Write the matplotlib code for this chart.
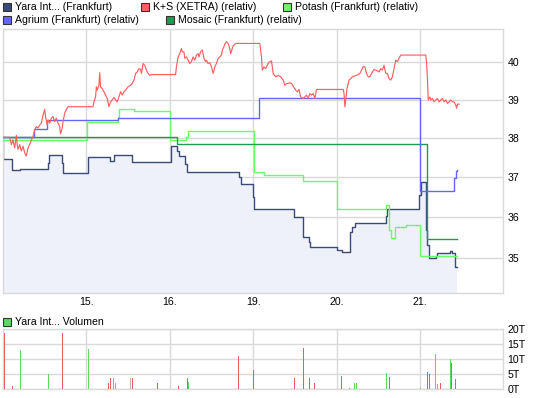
import matplotlib
matplotlib.use("Agg")
import matplotlib.pyplot as plt
from matplotlib.patches import Rectangle

plt.rcParams['font.family'] = ['Liberation Sans', 'DejaVu Sans']

# x = trading days since the start of the 14th (1.0 = start of the 15th, ...)
day_labels = ['15.', '16.', '19.', '20.', '21.']
price_ticks = [35, 36, 37, 38, 39, 40]

# Yara (Frankfurt), step points
yara_t = [0.00, 0.005, 0.11, 0.20, 0.535, 0.555, 0.705, 0.715, 1.015, 1.28,
          1.33, 1.545, 2.015, 2.085, 2.115, 2.185, 2.21, 2.825, 2.85, 3.003,
          3.01, 3.485, 3.60, 3.665, 3.68, 4.005, 4.06, 4.16, 4.19, 4.22,
          4.595, 4.61, 4.995, 5.01, 5.075, 5.09, 5.11, 5.19, 5.21, 5.36,
          5.385, 5.415, 5.445]
yara_v = [38.01, 37.46, 37.17, 37.19, 37.36, 37.56, 37.36, 37.11, 37.51, 37.41,
          37.56, 37.38, 37.78, 37.65, 37.53, 37.32, 37.13, 36.99, 36.82, 36.50,
          36.21, 36.01, 35.52, 35.40, 35.27, 35.20, 35.15, 35.64, 35.76, 35.85,
          36.03, 36.21, 36.54, 36.87, 35.69, 35.33, 35.00, 35.06, 35.13, 35.17,
          35.13, 34.80, 34.80]

# K+S (XETRA) relativ
ks_t = [0.00, 0.08, 0.10, 0.12, 0.14, 0.16, 0.17, 0.18, 0.20, 0.22, 0.24, 0.26,
        0.28, 0.30, 0.32, 0.34, 0.36, 0.38, 0.40, 0.42, 0.44, 0.46, 0.48, 0.50,
        0.51, 0.53, 0.54, 0.56, 0.58, 0.60, 0.62, 0.64, 0.66, 0.68, 0.69, 0.71,
        0.72, 0.74, 0.76, 0.78, 1.08, 1.09, 1.11, 1.12, 1.13, 1.15, 1.16, 1.17,
        1.19, 1.21, 1.23, 1.25, 1.27, 1.29, 1.31, 1.33, 1.35, 1.37, 1.39, 1.41,
        1.43, 1.45, 1.47, 1.50, 1.53, 1.55, 1.57, 1.59, 1.61, 1.63, 1.65, 1.66,
        1.68, 1.70, 1.72, 1.74, 1.76, 1.78, 2.07, 2.08, 2.10, 2.12, 2.14, 2.15,
        2.17, 2.18, 2.20, 2.22, 2.24, 2.26, 2.28, 2.30, 2.32, 2.34, 2.35, 2.37,
        2.39, 2.41, 2.43, 2.44, 2.46, 2.48, 2.50, 2.52, 2.54, 2.56, 2.58, 2.60,
        2.62, 2.63, 2.65, 2.66, 2.68, 2.70, 2.72, 2.73, 2.75, 2.76, 2.78, 2.80,
        3.08, 3.10, 3.11, 3.13, 3.15, 3.18, 3.20, 3.22, 3.24, 3.27, 3.30, 3.33,
        3.36, 3.38, 3.40, 3.42, 3.44, 3.46, 3.48, 3.50, 3.51, 3.53, 3.55, 3.57,
        3.60, 3.62, 3.64, 3.66, 3.68, 3.70, 3.72, 3.74, 3.76, 4.08, 4.09, 4.10,
        4.12, 4.125, 4.14, 4.15, 4.17, 4.19, 4.24, 4.28, 4.30, 4.32, 4.34, 4.36,
        4.38, 4.40, 4.42, 4.43, 4.45, 4.47, 4.49, 4.51, 4.53, 4.55, 4.57, 4.59,
        4.61, 4.63, 4.65, 4.67, 4.69, 4.71, 4.73, 4.75, 4.77, 5.07, 5.08, 5.09,
        5.10, 5.12, 5.13, 5.15, 5.17, 5.19, 5.21, 5.23, 5.25, 5.27, 5.29, 5.31,
        5.33, 5.35, 5.37, 5.39, 5.41, 5.43, 5.44, 5.45, 5.47]
ks_v = [38.01, 38.01, 37.82, 37.94, 37.74, 38.06, 37.82, 37.70, 37.82, 37.66, 37.78, 37.61,
        37.53, 37.74, 37.82, 37.94, 38.03, 38.20, 38.29, 38.25, 38.33, 38.38, 38.59, 38.74,
        38.55, 38.33, 38.46, 38.38, 38.51, 38.55, 38.42, 38.51, 38.38, 38.29, 38.10, 38.25,
        38.42, 38.64, 38.74, 38.81, 38.81, 38.94, 39.07, 39.34, 39.25, 39.38, 39.72, 39.34,
        39.29, 39.21, 39.12, 39.03, 38.81, 38.94, 38.99, 39.06, 38.99, 38.94, 39.07, 39.21,
        39.12, 39.21, 39.25, 39.34, 39.38, 39.43, 39.52, 39.70, 39.74, 39.83, 39.81, 39.70,
        39.97, 39.92, 39.79, 39.70, 39.65, 39.67, 39.67, 39.88, 40.15, 40.24, 40.38, 40.29,
        40.29, 40.11, 40.15, 40.06, 39.97, 40.02, 40.15, 40.06, 40.20, 40.24, 40.15, 40.29,
        40.34, 40.11, 40.02, 40.06, 39.97, 39.99, 39.88, 39.70, 39.88, 39.97, 40.11, 40.15,
        40.20, 40.34, 40.43, 40.50, 40.57, 40.52, 40.38, 40.24, 40.38, 40.45, 40.50, 40.52,
        40.52, 40.15, 39.79, 39.88, 39.83, 39.97, 40.02, 40.04, 39.70, 39.61, 39.65, 39.61,
        39.52, 39.38, 39.43, 39.43, 39.45, 39.43, 39.36, 39.29, 39.25, 39.21, 39.27, 39.07,
        39.03, 39.07, 39.12, 39.03, 39.16, 39.12, 39.16, 39.03, 39.27, 39.27, 39.16, 38.81,
        39.16, 39.29, 39.43, 39.52, 39.56, 39.61, 39.65, 39.70, 39.79, 39.88, 39.88, 39.70,
        39.61, 39.61, 39.70, 39.74, 39.81, 39.79, 39.77, 39.74, 39.83, 39.79, 39.92, 39.70,
        39.70, 39.56, 39.52, 39.61, 39.83, 40.06, 40.02, 40.11, 40.20, 40.20, 39.97, 39.56,
        38.99, 39.07, 38.99, 39.03, 38.94, 38.99, 39.03, 38.94, 38.99, 39.03, 38.94, 38.99,
        38.90, 38.94, 38.99, 38.94, 38.94, 38.85, 38.77, 38.88, 38.88]

# Potash (Frankfurt) relativ, step points
potash_t = [0.00, 1.005, 1.375, 1.39, 1.575, 2.005, 2.20, 2.22, 3.005, 3.125,
            3.595, 4.01, 4.595, 4.635, 4.65, 4.70, 4.83, 5.00, 5.445]
potash_v = [37.94, 38.40, 38.53, 38.74, 38.71, 37.95, 38.03, 38.17, 37.12, 37.06,
            36.89, 36.19, 36.29, 35.69, 35.48, 35.76, 35.80, 35.06, 35.06]

# Agrium (Frankfurt) relativ, step points
agrium_t = [0.00, 0.37, 0.53, 1.385, 3.065, 5.00, 5.405, 5.43, 5.445]
agrium_v = [38.01, 38.22, 38.46, 38.51, 39.03, 36.64, 36.97, 37.15, 37.18]

# Mosaic (Frankfurt) relativ, step points
mosaic_t = [0.00, 2.09, 5.085, 5.445]
mosaic_v = [38.01, 37.83, 35.46, 35.46]

# Yara volume (thousands)
vol_t = [0.016, 0.11, 0.21, 0.55, 0.71, 1.02, 1.26, 1.27, 1.285, 1.33, 1.345,
         1.535, 1.55, 1.85, 2.10, 2.21, 2.22, 2.83, 3.01, 3.49, 3.50, 3.60,
         3.67, 3.73, 4.06, 4.16, 4.21, 4.24, 4.60, 4.63, 5.01, 5.09, 5.12,
         5.19, 5.21, 5.25, 5.37, 5.38, 5.43]
vol_v = [18.7, 1.0, 13.0, 4.9, 18.7, 13.3, 1.0, 1.9, 3.7, 3.7, 2.0,
         3.7, 3.7, 2.0, 1.0, 3.7, 2.3, 11.0, 6.3, 1.0, 3.7, 13.7,
         3.7, 2.0, 4.3, 0.3, 2.0, 2.0, 5.3, 4.0, 0.3, 5.7, 5.0,
         11.7, 1.7, 2.0, 10.0, 8.7, 3.3]
vol_dir = ['d', 'd', 'u', 'u', 'd', 'u', 'd', 'd', 'd', 'u', 'u',
           'n', 'd', 'd', 'd', 'd', 'u', 'd', 'd', 'd', 'd', 'd',
           'd', 'd', 'd', 'u', 'u', 'u', 'u', 'd', 'u', 'd', 'd',
           'u', 'u', 'd', 'u', 'd', 'd']
vol_ticks = [0, 5, 10, 15, 20]

W, H = 545, 398
grid_c = '#d9d9d9'
fs = 7.6
c_yara = '#3b4b75'
c_fill = '#eef1f9'
c_ks = '#ff5f5f'
c_potash = '#66ff66'
c_agrium = '#6464ff'
c_mosaic = '#1f9a52'
vol_colors = {'d': '#e06060', 'u': '#60d860', 'n': '#c0b8b8'}


def px_axes(fig, left, top, right, bottom):
    return fig.add_axes([left / W, 1 - bottom / H, (right - left) / W, (bottom - top) / H])


def style_axes(ax):
    for s in ax.spines.values():
        s.set_color(grid_c)
        s.set_linewidth(1.0)
    ax.tick_params(length=0, labelsize=fs, colors='black')
    ax.grid(True, color=grid_c, linewidth=1.0)
    ax.set_axisbelow(True)


def legend_item(fig, x, y, color, label):
    fig.add_artist(Rectangle((x / W, 1 - (y + 4) / H), 8 / W, 8 / H,
                             transform=fig.transFigure, facecolor=color,
                             edgecolor='#333333', linewidth=0.8))
    fig.text((x + 12) / W, 1 - y / H, label, fontsize=fs, va='center', ha='left')


fig = plt.figure(figsize=(W / 100, H / 100), dpi=100)

ax = px_axes(fig, 3, 29, 503.3, 293.3)
style_axes(ax)
ax.set_yscale('log')
ax.set_xlim(0, 6)
ax.set_ylim(34.18, 40.92)
ax.yaxis.tick_right()
ax.set_yticks(price_ticks)
ax.set_yticklabels([str(p) for p in price_ticks])
ax.yaxis.set_minor_locator(matplotlib.ticker.NullLocator())
ax.set_xticks(range(1, 6))
ax.set_xticklabels(day_labels)
ax.tick_params(axis='y', pad=3)
ax.tick_params(axis='x', pad=3)

ax.fill_between(yara_t, yara_v, 34.18, step='post', color=c_fill, linewidth=0, zorder=1)
ax.plot(yara_t, yara_v, drawstyle='steps-post', color=c_yara, lw=1.0, zorder=2)
ax.plot(potash_t, potash_v, drawstyle='steps-post', color=c_potash, lw=1.0, zorder=3)
ax.plot(mosaic_t, mosaic_v, drawstyle='steps-post', color=c_mosaic, lw=1.0, zorder=4)
ax.plot(agrium_t, agrium_v, drawstyle='steps-post', color=c_agrium, lw=1.0, zorder=5)
ax.plot(ks_t, ks_v, color=c_ks, lw=0.85, zorder=6)

vax = px_axes(fig, 3, 329.3, 503.3, 389)
style_axes(vax)
vax.set_xlim(0, 6)
vax.set_ylim(0, 20)
vax.yaxis.tick_right()
vax.set_yticks(vol_ticks)
vax.set_yticklabels([f'{v}T' for v in vol_ticks])
vax.set_xticks(range(1, 6))
vax.set_xticklabels([])
vax.tick_params(axis='y', pad=3)
vax.bar(vol_t, vol_v, width=0.012, color=[vol_colors[d] for d in vol_dir],
        linewidth=0, antialiased=False, zorder=3)

legend_item(fig, 3, 6.5, c_yara, 'Yara Int... (Frankfurt)')
legend_item(fig, 141, 6.5, c_ks, 'K+S (XETRA) (relativ)')
legend_item(fig, 283, 6.5, c_potash, 'Potash (Frankfurt) (relativ)')
legend_item(fig, 3, 20, c_agrium, 'Agrium (Frankfurt) (relativ)')
legend_item(fig, 166, 20, c_mosaic, 'Mosaic (Frankfurt) (relativ)')
legend_item(fig, 3, 322, '#60d860', 'Yara Int... Volumen')

fig.savefig('out.png', dpi=100)
